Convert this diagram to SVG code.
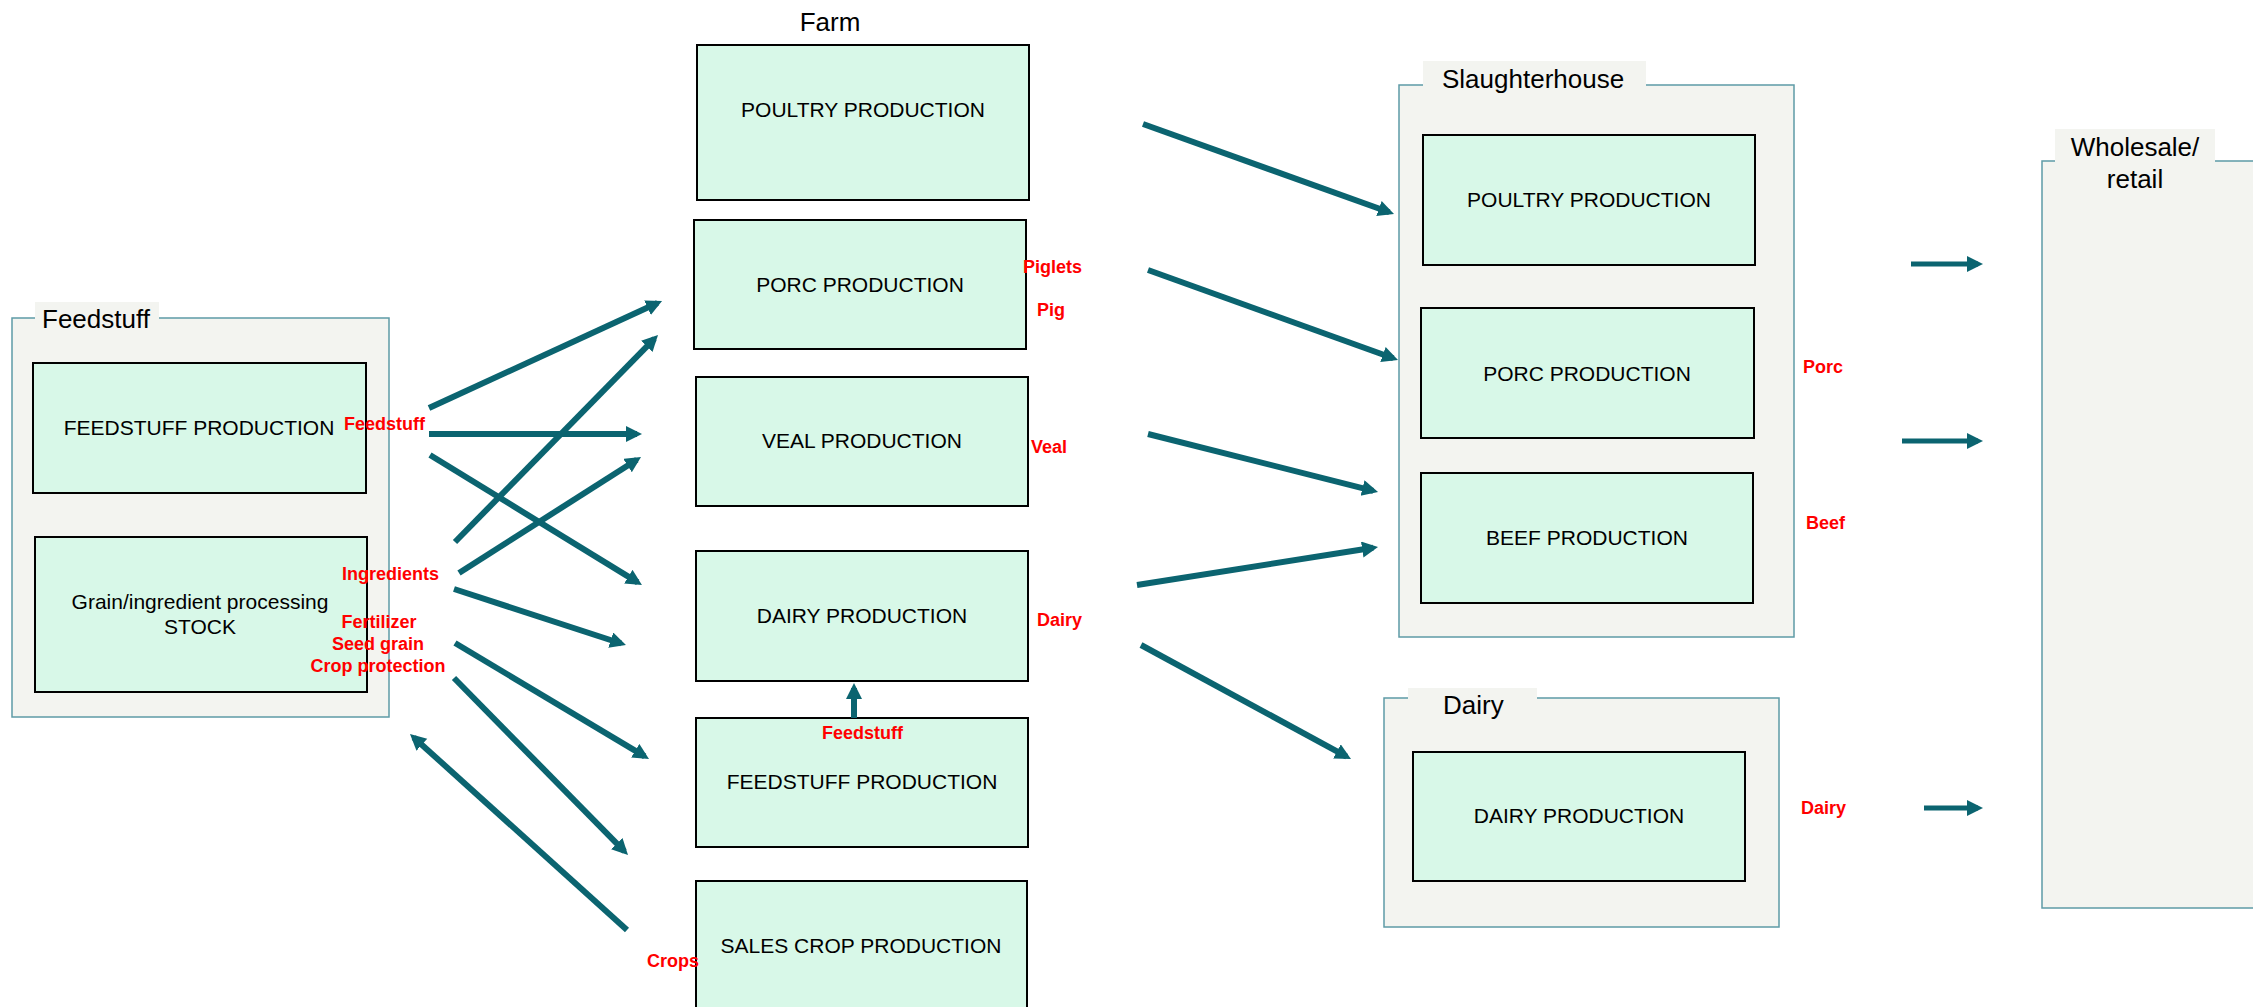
<svg xmlns="http://www.w3.org/2000/svg" width="2253" height="1007" viewBox="0 0 2253 1007">
<style>
.cont{fill:#F3F4F0;stroke:#5E9BA6;stroke-width:1.5}
.tab{fill:#F3F4F0;stroke:none}
.box{fill:#D8F8E8;stroke:#000;stroke-width:2}
.t{font-family:"Liberation Sans",Arial,sans-serif;font-size:21px;fill:#000;text-anchor:middle}
.ct{font-family:"Liberation Sans",Arial,sans-serif;font-size:26px;fill:#000}
.r{font-family:"Liberation Sans",Arial,sans-serif;font-size:18px;font-weight:bold;fill:#FF0000}
.a{stroke:#0B6470;stroke-width:6;fill:none;marker-end:url(#ah)}
.a2{stroke:#0B6470;stroke-width:5;fill:none;marker-end:url(#ah)}
</style>
<defs>
<marker id="ah" markerUnits="userSpaceOnUse" markerWidth="17" markerHeight="17" refX="11" refY="8" orient="auto">
<path d="M0,0 L16,8 L0,16 z" fill="#0B6470"/>
</marker>
</defs>
<rect width="2253" height="1007" fill="#FFFFFF"/>

<g id="feedstuff-container">
<rect class="cont" x="12" y="318" width="377" height="399"/>
<rect class="tab" x="35" y="302" width="124" height="18"/>
<text class="ct" x="42" y="328">Feedstuff</text>
</g>
<g id="slaughterhouse-container">
<rect class="cont" x="1399" y="85" width="395" height="552"/>
<rect class="tab" x="1423" y="61" width="223" height="26"/>
<text class="ct" x="1442" y="88">Slaughterhouse</text>
</g>
<g id="dairy-container">
<rect class="cont" x="1384" y="698" width="395" height="229"/>
<rect class="tab" x="1408" y="688" width="129" height="12"/>
<text class="ct" x="1443" y="714">Dairy</text>
</g>
<g id="wholesale-container">
<rect class="cont" x="2042" y="161" width="240" height="747"/>
<rect class="tab" x="2055" y="129" width="160" height="34"/>
<text class="ct" x="2135" y="156" text-anchor="middle">Wholesale/</text>
<text class="ct" x="2135" y="188" text-anchor="middle">retail</text>
</g>

<text id="farm-label" class="ct" x="830" y="31" text-anchor="middle">Farm</text>

<g id="fs-feedstuff-production">
<rect class="box" x="33" y="363" width="333" height="130"/>
<text class="t" x="199" y="435">FEEDSTUFF PRODUCTION</text>
</g>
<g id="fs-grain">
<rect class="box" x="35" y="537" width="332" height="155"/>
<text class="t" x="200" y="609">Grain/ingredient processing</text>
<text class="t" x="200" y="634">STOCK</text>
</g>

<g id="farm-poultry">
<rect class="box" x="697" y="45" width="332" height="155"/>
<text class="t" x="863" y="117">POULTRY PRODUCTION</text>
</g>
<g id="farm-porc">
<rect class="box" x="694" y="220" width="332" height="129"/>
<text class="t" x="860" y="292">PORC PRODUCTION</text>
</g>
<g id="farm-veal">
<rect class="box" x="696" y="377" width="332" height="129"/>
<text class="t" x="862" y="448">VEAL PRODUCTION</text>
</g>
<g id="farm-dairy">
<rect class="box" x="696" y="551" width="332" height="130"/>
<text class="t" x="862" y="623">DAIRY PRODUCTION</text>
</g>
<g id="farm-feedstuff">
<rect class="box" x="696" y="718" width="332" height="129"/>
<text class="t" x="862" y="789">FEEDSTUFF PRODUCTION</text>
</g>
<g id="farm-sales-crop">
<rect class="box" x="696" y="881" width="331" height="140"/>
<text class="t" x="861" y="953">SALES CROP PRODUCTION</text>
</g>

<g id="sh-poultry">
<rect class="box" x="1423" y="135" width="332" height="130"/>
<text class="t" x="1589" y="207">POULTRY PRODUCTION</text>
</g>
<g id="sh-porc">
<rect class="box" x="1421" y="308" width="333" height="130"/>
<text class="t" x="1587" y="381">PORC PRODUCTION</text>
</g>
<g id="sh-beef">
<rect class="box" x="1421" y="473" width="332" height="130"/>
<text class="t" x="1587" y="545">BEEF PRODUCTION</text>
</g>
<g id="dairy-production">
<rect class="box" x="1413" y="752" width="332" height="129"/>
<text class="t" x="1579" y="823">DAIRY PRODUCTION</text>
</g>

<g id="connectors">
<line class="a" x1="429" y1="408" x2="657.5" y2="303.1"/>
<line class="a" x1="429" y1="434" x2="637" y2="434"/>
<line class="a" x1="430" y1="455" x2="637.7" y2="582.4"/>
<line class="a" x1="455" y1="542" x2="654.5" y2="338.6"/>
<line class="a" x1="459" y1="573" x2="636.8" y2="459.7"/>
<line class="a" x1="454" y1="589" x2="621.2" y2="643.5"/>
<line class="a" x1="455" y1="643" x2="644.7" y2="756.4"/>
<line class="a" x1="454" y1="678" x2="624.5" y2="851.4"/>
<line class="a" x1="627" y1="930" x2="413.7" y2="737.4"/>
<line class="a" x1="854" y1="718" x2="854" y2="688"/>
<line class="a" x1="1143" y1="124" x2="1389.3" y2="212.3"/>
<line class="a" x1="1148" y1="270" x2="1393.3" y2="358.3"/>
<line class="a" x1="1148" y1="434" x2="1373.2" y2="490.8"/>
<line class="a" x1="1137" y1="585" x2="1373.1" y2="547.8"/>
<line class="a" x1="1141" y1="645" x2="1346.6" y2="756.6"/>
<line class="a2" x1="1911" y1="264" x2="1978" y2="264"/>
<line class="a2" x1="1902" y1="441" x2="1978" y2="441"/>
<line class="a2" x1="1924" y1="808" x2="1978" y2="808"/>
</g>

<g id="labels">
<text class="r" x="344" y="430">Feedstuff</text>
<text class="r" x="342" y="580">Ingredients</text>
<text class="r" x="379" y="628" text-anchor="middle">Fertilizer</text>
<text class="r" x="378" y="650" text-anchor="middle">Seed grain</text>
<text class="r" x="378" y="672" text-anchor="middle">Crop protection</text>
<text class="r" x="1023" y="273">Piglets</text>
<text class="r" x="1037" y="316">Pig</text>
<text class="r" x="1031" y="453">Veal</text>
<text class="r" x="1037" y="626">Dairy</text>
<text class="r" x="822" y="739">Feedstuff</text>
<text class="r" x="647" y="967">Crops</text>
<text class="r" x="1803" y="373">Porc</text>
<text class="r" x="1806" y="529">Beef</text>
<text class="r" x="1801" y="814">Dairy</text>
</g>
</svg>
